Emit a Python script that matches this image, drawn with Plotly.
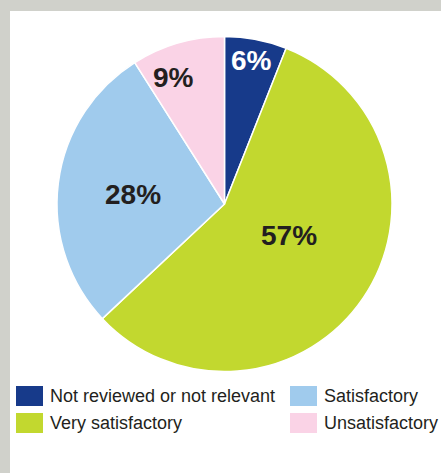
import math
import plotly.graph_objects as go

labels = ["Not reviewed or not relevant", "Very satisfactory", "Satisfactory", "Unsatisfactory"]
values = [6, 57, 28, 9]
colors = ["#173a8a", "#c2d82f", "#a0cbed", "#fad3e6"]
text_colors = ["#ffffff", "#231f20", "#231f20", "#231f20"]
label_radius = [0.87, 0.43, 0.55, 0.815]
label_angle_shift = [0.0, -8.5, -1.5, -5.8]
legend_order = ["Not reviewed or not relevant", "Satisfactory", "Very satisfactory", "Unsatisfactory"]

W, H = 441, 473
cx, cy, R = 224.5, 204, 167.5

fig = go.Figure()
fig.add_trace(go.Pie(
    labels=labels, values=values, sort=False, direction="clockwise", rotation=0,
    marker=dict(colors=colors, line=dict(color="#ffffff", width=1.5)),
    textinfo="none", hoverinfo="label+percent", showlegend=False,
    domain=dict(x=[(cx - R) / W, (cx + R) / W], y=[1 - (cy + R) / H, 1 - (cy - R) / H]),
))

total = sum(values)
cum = 0
annotations = []
for lab, v, tc, rf, sh in zip(labels, values, text_colors, label_radius, label_angle_shift):
    mid = (cum + v / 2) / total * 2 * math.pi + math.radians(sh)
    cum += v
    px = cx + rf * R * math.sin(mid)
    py = cy - rf * R * math.cos(mid)
    annotations.append(dict(
        x=px / W, y=1 - py / H, xref="paper", yref="paper",
        text=f"<b>{round(v / total * 100)}%</b>", showarrow=False,
        font=dict(family="Liberation Sans, Arial, sans-serif", size=28, color=tc),
        xanchor="center", yanchor="middle",
    ))

shapes = [dict(type="rect", xref="paper", yref="paper",
               x0=10 / W, x1=1, y0=0, y1=1 - 11 / H,
               fillcolor="#ffffff", line=dict(width=0), layer="below")]

# legend (2 rows x 2 columns)
col_x = [16, 290]
row_y = [386, 413]
cmap = dict(zip(labels, colors))
for i, lab in enumerate(legend_order):
    r, c = divmod(i, 2)
    x0 = col_x[c]
    y0 = row_y[r]
    shapes.append(dict(type="rect", xref="paper", yref="paper",
                       x0=x0 / W, x1=(x0 + 27) / W, y0=1 - (y0 + 20) / H, y1=1 - y0 / H,
                       fillcolor=cmap[lab], line=dict(width=0)))
    annotations.append(dict(
        x=(x0 + 32) / W, y=1 - (y0 + 10) / H, xref="paper", yref="paper",
        text=lab, showarrow=False, xanchor="left", yanchor="middle",
        font=dict(family="Liberation Sans, Arial, sans-serif", size=18, color="#231f20"),
    ))

fig.update_layout(
    width=W, height=H, margin=dict(l=0, r=0, t=0, b=0),
    paper_bgcolor="#d0d1cb", plot_bgcolor="#ffffff",
    shapes=shapes, annotations=annotations, showlegend=False,
)
fig.write_html("out.html", config={"displayModeBar": False},
               post_script="document.body.style.margin='0';")
